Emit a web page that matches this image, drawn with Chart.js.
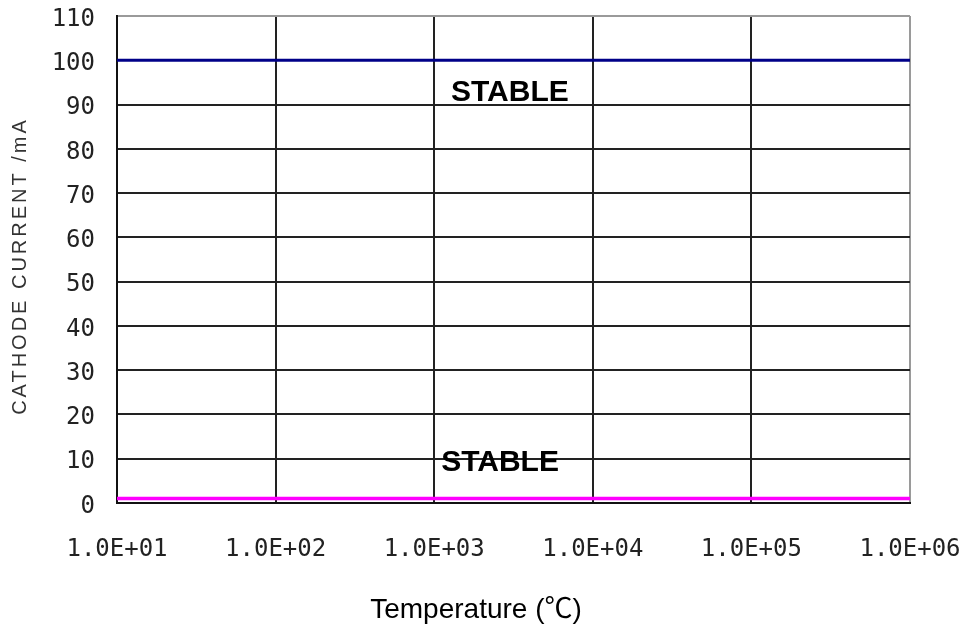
<!DOCTYPE html>
<html>
<head>
<meta charset="utf-8">
<script src="https://cdn.jsdelivr.net/npm/chart.js@4.4.1/dist/chart.umd.min.js"></script>
<style>
  html, body { margin: 0; padding: 0; background: #ffffff; }
  #wrap { width: 966px; height: 633px; }
</style>
</head>
<body>
<div id="wrap"><canvas id="chart" width="966" height="633"></canvas></div>
<script>
// Temperature decades (log axis) and their printed labels
const temperatures = [10, 100, 1000, 10000, 100000, 1000000];
const temperatureLabels = ['1.0E+01', '1.0E+02', '1.0E+03', '1.0E+04', '1.0E+05', '1.0E+06'];

// Cathode current (mA) at each temperature
const upperCurrent = [100, 100, 100, 100, 100, 100];
const lowerCurrent = [1, 1, 1, 1, 1, 1];

// Current axis ticks
const currentTicks = [0, 10, 20, 30, 40, 50, 60, 70, 80, 90, 100, 110];

// Region notes: text and anchor in data units
const noteTexts = ['STABLE', 'STABLE'];
const noteTemps = [3000, 2600];
const noteCurrents = [93.2, 9.6];

const GRID = '#222222';
const FRAME = '#9a9a9a';

const notesPlugin = {
  id: 'notes',
  afterDatasetsDraw(chart) {
    const { ctx, scales: { x, y } } = chart;
    ctx.save();
    ctx.font = 'bold 30px "Liberation Sans", Arial, sans-serif';
    ctx.fillStyle = '#000000';
    ctx.textAlign = 'center';
    ctx.textBaseline = 'alphabetic';
    noteTexts.forEach((t, i) => {
      const px = x.getPixelForValue(noteTemps[i]);
      const py = y.getPixelForValue(noteCurrents[i]);
      ctx.fillText(t, px, py + 10.7);
    });
    ctx.restore();
  }
};

const axisTitlesPlugin = {
  id: 'axisTitles',
  afterDraw(chart) {
    const { ctx } = chart;
    ctx.save();
    ctx.translate(20, 266);
    ctx.rotate(-Math.PI / 2);
    ctx.font = '20px "Liberation Sans", Arial, sans-serif';
    ctx.letterSpacing = '3px';
    ctx.fillStyle = '#333333';
    ctx.textAlign = 'center';
    ctx.textBaseline = 'middle';
    ctx.fillText('CATHODE CURRENT /mA', 0, 0);
    ctx.restore();

    ctx.save();
    ctx.font = '28px "Liberation Sans", Arial, "Noto Sans CJK SC", sans-serif';
    ctx.fillStyle = '#000000';
    ctx.textAlign = 'center';
    ctx.textBaseline = 'alphabetic';
    ctx.fillText('Temperature (\u2103)', 476, 618);
    ctx.restore();
  }
};

new Chart(document.getElementById('chart'), {
  type: 'line',
  data: {
    datasets: [
      {
        label: 'upper',
        data: temperatures.map((t, i) => ({ x: t, y: upperCurrent[i] })),
        borderColor: '#000088',
        borderWidth: 3,
        pointRadius: 0,
        fill: false,
        clip: false
      },
      {
        label: 'lower',
        data: temperatures.map((t, i) => ({ x: t, y: lowerCurrent[i] })),
        borderColor: '#ff00ff',
        borderWidth: 3.5,
        pointRadius: 0,
        fill: false,
        clip: false
      }
    ]
  },
  options: {
    responsive: false,
    devicePixelRatio: 1,
    animation: false,
    layout: { padding: { top: 16, right: 56, bottom: 0, left: 0 } },
    plugins: {
      legend: { display: false },
      tooltip: { enabled: false }
    },
    scales: {
      x: {
        type: 'logarithmic',
        min: 10,
        max: 1000000,
        afterBuildTicks(scale) {
          scale.ticks = temperatures.map(v => ({ value: v, major: true }));
        },
        afterFit(scale) {
          scale.height = 130;
          scale.paddingLeft = 0;
          scale.paddingRight = 0;
        },
        grid: {
          drawTicks: false,
          lineWidth: 2,
          color: ctx => (ctx.tick && ctx.tick.value === 1000000) ? FRAME : GRID
        },
        border: { display: true, color: '#111111', width: 2 },
        ticks: {
          autoSkip: false,
          maxRotation: 0,
          padding: 32,
          color: '#222222',
          font: { family: '"DejaVu Sans Mono", monospace', size: 24 },
          callback: (v, i) => temperatureLabels[i]
        }
      },
      y: {
        type: 'linear',
        min: 0,
        max: 110,
        afterBuildTicks(scale) {
          scale.ticks = currentTicks.map(v => ({ value: v }));
        },
        afterFit(scale) {
          scale.width = 117;
          scale.paddingTop = 0;
          scale.paddingBottom = 0;
        },
        grid: {
          drawTicks: false,
          lineWidth: 2,
          color: ctx => (ctx.tick && ctx.tick.value === 110) ? FRAME : GRID
        },
        border: { display: true, color: '#111111', width: 2 },
        ticks: {
          padding: 22,
          labelOffset: 3.5,
          color: '#222222',
          font: { family: '"DejaVu Sans Mono", monospace', size: 24 },
          callback: v => String(v)
        }
      }
    }
  },
  plugins: [notesPlugin, axisTitlesPlugin]
});
</script>
</body>
</html>
